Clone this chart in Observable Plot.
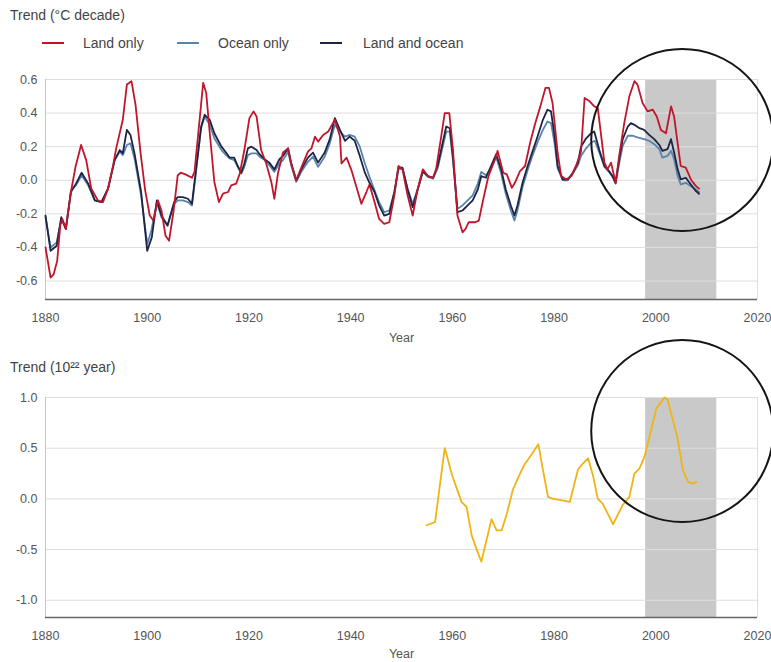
<!DOCTYPE html>
<html>
<head>
<meta charset="utf-8">
<script src="https://cdn.jsdelivr.net/npm/d3@7"></script>
<script src="https://cdn.jsdelivr.net/npm/@observablehq/plot@0.6"></script>
<style>
  html, body { margin: 0; padding: 0; background: #fff; }
  #wrap { position: relative; width: 771px; height: 662px; font-family: "Liberation Sans", Arial, sans-serif; color: #444; overflow: hidden; }
  .ttl { position: absolute; left: 10px; font-size: 14px; line-height: 16px; color: #444; z-index: 2; }
  .lg { position: absolute; top: 35px; font-size: 14px; line-height: 16px; color: #444; z-index: 2; }
  .sw { position: absolute; top: 42px; width: 22px; height: 2px; z-index: 2; }
  .panel { position: absolute; left: 0; z-index: 1; }
</style>
</head>
<body>
<div id="wrap">
  <div class="ttl" style="top:7px">Trend (°C decade)</div>
  <div class="sw" style="left:42px;background:#c0162c"></div>
  <div class="lg" style="left:83px">Land only</div>
  <div class="sw" style="left:177px;background:#5a84ad"></div>
  <div class="lg" style="left:218px">Ocean only</div>
  <div class="sw" style="left:320px;background:#1d2444"></div>
  <div class="lg" style="left:363px">Land and ocean</div>
  <div id="top" class="panel" style="top:40px"></div>
  <div class="ttl" style="top:359px">Trend (10²² year)</div>
  <div id="bottom" class="panel" style="top:330px"></div>
</div>
<script>
// ---------- data ----------
const xTicks = [1880, 1900, 1920, 1940, 1960, 1980, 2000, 2020];
const yTicksTop = [-0.6, -0.4, -0.2, 0.0, 0.2, 0.4, 0.6];
const yTicksBottom = [-1.0, -0.5, 0.0, 0.5, 1.0];
const highlightPeriod = [1998, 2012];
const circleTop = [{year: 2005.2, value: 0.24}];
const circleBottom = [{year: 2005.2, value: 0.67}];

const landYears = [1880.0,1881.0,1881.6,1882.3,1882.9,1883.3,1884.0,1885.0,1885.9,1887.0,1888.0,1889.0,1890.3,1891.3,1892.3,1893.3,1893.9,1895.2,1896.0,1896.9,1897.7,1898.7,1899.6,1900.5,1901.2,1902.1,1902.8,1903.6,1904.3,1905.2,1906.0,1906.6,1907.5,1908.8,1909.3,1910.3,1911.0,1911.6,1912.3,1913.2,1914.1,1914.9,1915.9,1916.5,1917.5,1918.2,1919.1,1920.1,1920.9,1921.5,1922.4,1923.4,1924.4,1925.0,1925.7,1926.7,1927.7,1928.3,1929.3,1930.3,1931.6,1932.3,1933.0,1933.6,1934.6,1935.6,1936.9,1937.9,1938.2,1939.2,1940.1,1941.1,1942.1,1943.1,1943.7,1944.7,1945.6,1946.6,1947.6,1948.6,1949.4,1950.2,1951.2,1952.2,1953.2,1954.2,1955.2,1956.2,1956.8,1957.8,1958.5,1959.4,1960.1,1961.0,1962.0,1962.6,1963.2,1964.5,1965.2,1966.1,1967.1,1968.4,1968.9,1970.0,1970.7,1971.7,1972.3,1973.3,1974.3,1975.3,1976.3,1977.3,1978.3,1979.0,1979.7,1980.7,1981.4,1982.4,1983.4,1984.3,1985.3,1986.0,1987.0,1987.9,1988.6,1989.9,1990.5,1991.2,1992.1,1992.8,1993.8,1994.8,1995.8,1996.4,1997.4,1998.4,1999.4,2000.2,2001.0,2002.0,2003.0,2003.6,2004.3,2004.9,2005.9,2006.9,2007.9,2008.5];
const landValues = [-0.40,-0.58,-0.56,-0.48,-0.27,-0.23,-0.29,-0.07,0.08,0.21,0.12,-0.05,-0.12,-0.13,-0.05,0.09,0.19,0.36,0.57,0.59,0.45,0.16,-0.06,-0.21,-0.24,-0.12,-0.18,-0.33,-0.36,-0.18,0.03,0.045,0.035,0.015,0.05,0.36,0.58,0.52,0.28,-0.01,-0.13,-0.08,-0.07,-0.03,-0.02,0.04,0.18,0.37,0.41,0.38,0.18,0.10,-0.01,-0.11,0.04,0.165,0.19,0.10,0.0,0.075,0.17,0.19,0.26,0.23,0.27,0.29,0.36,0.26,0.10,0.135,0.065,-0.035,-0.14,-0.07,-0.025,-0.13,-0.23,-0.26,-0.25,-0.09,0.085,0.065,-0.09,-0.21,-0.05,0.065,0.025,0.015,0.065,0.26,0.40,0.40,0.19,-0.21,-0.31,-0.29,-0.25,-0.25,-0.24,-0.11,0.025,0.125,0.175,0.045,0.035,-0.045,-0.015,0.055,0.085,0.225,0.34,0.44,0.55,0.55,0.46,0.165,0.025,0.005,0.025,0.085,0.17,0.49,0.47,0.44,0.43,0.105,0.065,0.105,-0.015,0.145,0.34,0.50,0.59,0.57,0.46,0.41,0.42,0.38,0.30,0.28,0.44,0.38,0.22,0.085,0.075,0.005,-0.035,-0.05];

const bothYears = [1880.0,1881.0,1882.2,1883.1,1884.0,1885.0,1886.0,1887.1,1888.4,1889.7,1891.0,1892.3,1893.6,1894.6,1895.2,1896.0,1896.7,1897.5,1898.8,1900.0,1900.9,1901.9,1902.8,1904.0,1905.3,1906.0,1907.0,1908.0,1908.8,1909.6,1910.6,1911.3,1912.3,1913.2,1914.6,1915.5,1916.2,1917.1,1917.8,1918.5,1919.1,1919.8,1920.5,1921.5,1922.1,1923.1,1924.0,1925.0,1926.0,1926.7,1927.7,1928.3,1929.3,1930.3,1931.6,1932.6,1933.6,1934.9,1935.9,1936.9,1937.9,1938.9,1939.8,1940.8,1941.8,1942.8,1943.7,1944.7,1945.6,1946.6,1947.6,1948.6,1949.4,1950.2,1951.2,1952.2,1953.2,1954.2,1955.2,1956.2,1957.1,1958.1,1958.8,1959.5,1960.1,1961.0,1962.0,1963.0,1964.0,1965.0,1965.7,1966.6,1967.6,1968.6,1969.6,1970.5,1971.5,1972.2,1972.8,1973.8,1974.8,1975.8,1976.8,1977.8,1978.7,1979.4,1980.1,1980.7,1981.7,1982.7,1983.7,1984.7,1985.3,1986.3,1987.3,1987.9,1988.9,1989.9,1990.8,1991.5,1992.1,1992.8,1993.5,1994.5,1995.1,1995.8,1996.8,1997.7,1998.7,1999.7,2000.7,2001.3,2002.3,2003.0,2003.6,2004.3,2004.9,2005.9,2006.9,2007.9,2008.5];
const bothValues = [-0.21,-0.42,-0.39,-0.22,-0.29,-0.07,-0.02,0.045,-0.02,-0.12,-0.13,-0.05,0.12,0.18,0.16,0.30,0.27,0.16,-0.07,-0.42,-0.34,-0.12,-0.21,-0.27,-0.13,-0.10,-0.10,-0.11,-0.14,0.065,0.32,0.39,0.36,0.28,0.20,0.165,0.135,0.135,0.085,0.045,0.10,0.19,0.20,0.18,0.155,0.125,0.105,0.065,0.125,0.145,0.19,0.105,0.0,0.065,0.135,0.165,0.105,0.165,0.245,0.37,0.30,0.235,0.26,0.235,0.145,0.045,-0.015,-0.07,-0.15,-0.21,-0.20,-0.07,0.075,0.075,-0.055,-0.16,-0.055,0.055,0.025,0.015,0.085,0.225,0.32,0.31,0.145,-0.19,-0.18,-0.15,-0.12,-0.055,0.025,0.015,0.085,0.155,0.065,-0.055,-0.15,-0.21,-0.15,-0.015,0.085,0.175,0.265,0.36,0.42,0.41,0.265,0.085,0.005,0.005,0.045,0.105,0.20,0.25,0.28,0.29,0.18,0.085,0.055,0.025,-0.015,0.125,0.245,0.32,0.34,0.33,0.31,0.30,0.27,0.245,0.21,0.175,0.185,0.245,0.165,0.065,0.005,0.015,-0.025,-0.065,-0.08];

const oceanYears = [1880.0,1881.0,1882.2,1883.1,1884.0,1885.0,1886.0,1887.1,1888.4,1889.7,1891.0,1892.3,1893.6,1894.6,1895.2,1896.0,1896.7,1897.5,1898.8,1900.0,1900.8,1901.9,1902.8,1904.0,1905.3,1906.0,1907.0,1908.0,1908.8,1909.6,1910.6,1911.3,1912.3,1913.2,1914.6,1915.5,1916.2,1917.1,1917.8,1918.5,1919.1,1919.8,1920.5,1921.5,1922.1,1923.1,1924.0,1925.0,1926.0,1926.7,1927.7,1928.3,1929.3,1930.3,1931.6,1932.6,1933.6,1934.9,1935.9,1936.9,1937.9,1938.9,1939.8,1940.8,1941.8,1942.8,1943.7,1944.7,1945.6,1946.6,1947.6,1948.6,1949.4,1950.2,1951.2,1952.2,1953.2,1954.2,1955.2,1956.2,1957.1,1958.1,1958.8,1959.5,1960.1,1961.0,1962.0,1963.0,1964.0,1965.0,1965.7,1966.6,1967.6,1968.6,1969.6,1970.5,1971.5,1972.2,1972.8,1973.8,1974.8,1975.8,1976.8,1977.8,1978.7,1979.4,1980.1,1980.7,1981.7,1982.7,1983.7,1984.7,1985.3,1986.3,1987.3,1988.0,1988.9,1989.9,1990.8,1991.5,1992.1,1992.8,1993.5,1994.5,1995.5,1996.4,1997.7,1998.7,1999.7,2000.7,2001.3,2002.3,2003.0,2003.6,2004.3,2004.9,2005.9,2006.9,2007.9,2008.5];
const oceanValues = [-0.22,-0.40,-0.37,-0.23,-0.29,-0.06,-0.03,0.03,-0.03,-0.12,-0.13,-0.05,0.12,0.17,0.15,0.21,0.22,0.13,-0.09,-0.38,-0.30,-0.13,-0.22,-0.27,-0.14,-0.12,-0.12,-0.13,-0.15,0.05,0.31,0.38,0.33,0.25,0.18,0.15,0.13,0.12,0.08,0.04,0.08,0.15,0.16,0.16,0.14,0.12,0.09,0.05,0.10,0.12,0.17,0.09,-0.01,0.05,0.11,0.14,0.08,0.14,0.22,0.33,0.29,0.26,0.27,0.26,0.20,0.10,0.02,-0.06,-0.13,-0.19,-0.18,-0.07,0.065,0.07,-0.05,-0.14,-0.05,0.05,0.02,0.01,0.07,0.20,0.29,0.29,0.12,-0.17,-0.15,-0.12,-0.09,-0.02,0.05,0.03,0.07,0.14,0.04,-0.08,-0.18,-0.24,-0.18,-0.04,0.06,0.15,0.23,0.30,0.35,0.34,0.22,0.07,0.0,0.0,0.04,0.09,0.145,0.19,0.225,0.235,0.165,0.08,0.05,0.02,-0.02,0.10,0.205,0.265,0.265,0.255,0.245,0.235,0.215,0.185,0.135,0.145,0.175,0.125,0.025,-0.025,-0.015,-0.035,-0.055,-0.07];

const heatYears = [1954.9,1956.6,1958.5,1958.8,1959.9,1961.8,1962.8,1963.8,1964.8,1965.7,1966.7,1967.7,1968.7,1969.7,1970.7,1971.9,1973.3,1974.2,1975.6,1976.9,1977.8,1978.8,1979.8,1981.1,1983.1,1984.7,1985.7,1986.7,1987.7,1988.6,1989.6,1990.6,1991.6,1992.6,1993.5,1994.8,1995.8,1996.8,1997.8,1998.8,2000.1,2001.7,2002.3,2003.3,2004.3,2005.3,2006.3,2007.3,2008.0];
const heatValues = [-0.26,-0.23,0.50,0.45,0.24,-0.03,-0.08,-0.36,-0.50,-0.62,-0.41,-0.20,-0.31,-0.31,-0.15,0.09,0.25,0.34,0.44,0.54,0.29,0.02,0.0,-0.01,-0.03,0.29,0.35,0.40,0.22,0.0,-0.05,-0.15,-0.25,-0.15,-0.06,0.02,0.25,0.30,0.42,0.62,0.89,1.0,0.98,0.79,0.59,0.29,0.17,0.15,0.17];

// ---------- tables ----------
const zip = (xs, vs) => xs.map((year, i) => ({year, value: vs[i]}));
const land = zip(landYears, landValues);
const both = zip(bothYears, bothValues);
const ocean = zip(oceanYears, oceanValues);
const heat = zip(heatYears, heatValues);
const band = [{x1: highlightPeriod[0], x2: highlightPeriod[1]}];

const FONT = '"Liberation Sans", Arial, sans-serif';
const fmtY = d => d.toFixed(1);

function panel({yDomain, yTicks, series, circle, height, marginTop, marginBottom, labelOffset}) {
  return Plot.plot({
    width: 771,
    height,
    marginTop,
    marginBottom,
    marginLeft: 45,
    marginRight: 14,
    style: {background: "transparent", overflow: "visible", fontFamily: FONT, fontSize: "12.5px", color: "#555"},
    x: {domain: [1880, 2020]},
    y: {domain: yDomain},
    marks: [
      Plot.rect(band, {x1: "x1", x2: "x2", fill: "#c9c9c9"}),
      Plot.ruleY(yTicks, {stroke: "#dedede", strokeWidth: 1}),
      Plot.ruleX([2020], {stroke: "#dedede"}),
      Plot.ruleX([1880], {stroke: "#c8c8c8"}),
      Plot.ruleY([yDomain[0]], {stroke: "#666", strokeWidth: 1.5}),
      ...series.map(s => Plot.line(s.data, {x: "year", y: "value", stroke: s.color, strokeWidth: 1.8})),
      Plot.dot(circle, {x: "year", y: "value", r: 91, stroke: "#151515", strokeWidth: 2, fill: "none"}),
      Plot.axisX(xTicks, {tickSize: 0, tickPadding: 14, tickFormat: d => String(d), label: "Year", labelAnchor: "center", labelOffset, labelArrow: "none"}),
      Plot.axisY(yTicks, {tickSize: 0, tickPadding: 8, tickFormat: fmtY, label: null})
    ]
  });
}

document.getElementById("top").appendChild(panel({
  yDomain: [-0.71, 0.6], yTicks: yTicksTop,
  series: [
    {data: ocean, color: "#5a84ad"},
    {data: both, color: "#1d2444"},
    {data: land, color: "#c0162c"}
  ],
  circle: circleTop, height: 310, marginTop: 39, marginBottom: 51, labelOffset: 42
}));

document.getElementById("bottom").appendChild(panel({
  yDomain: [-1.17, 1.0], yTicks: yTicksBottom,
  series: [{data: heat, color: "#efb416"}],
  circle: circleBottom, height: 332, marginTop: 67, marginBottom: 45, labelOffset: 40
}));
</script>
</body>
</html>
